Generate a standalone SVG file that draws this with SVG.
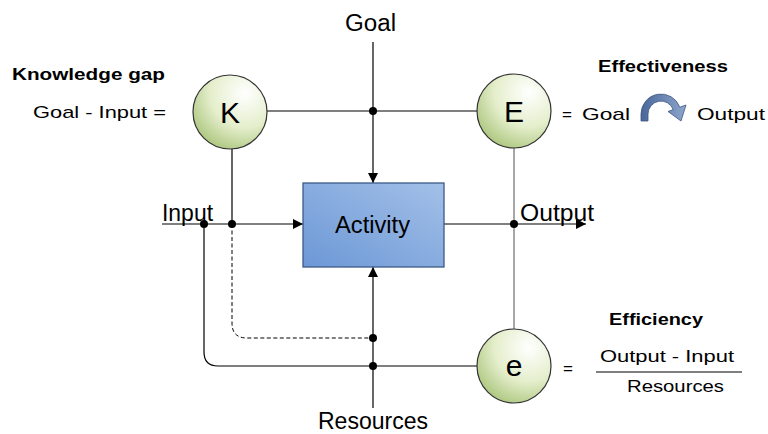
<svg xmlns="http://www.w3.org/2000/svg" width="768" height="434" viewBox="0 0 768 434">
<defs>
<radialGradient id="gc" cx="0.7" cy="0.25" r="0.85">
<stop offset="0" stop-color="#ffffff"/>
<stop offset="0.55" stop-color="#e4eecb"/>
<stop offset="1" stop-color="#a9c47a"/>
</radialGradient>
<linearGradient id="gb" x1="0" y1="1" x2="1" y2="0">
<stop offset="0" stop-color="#6c98d6"/>
<stop offset="1" stop-color="#a3c0e8"/>
</linearGradient>
<linearGradient id="ga" x1="0" y1="0" x2="1" y2="0">
<stop offset="0" stop-color="#4a679b"/>
<stop offset="1" stop-color="#8ea6cc"/>
</linearGradient>
<marker id="ah" viewBox="0 0 10 10" refX="10" refY="5" markerWidth="10" markerHeight="10" markerUnits="userSpaceOnUse" orient="auto">
<path d="M0,0 L10,5 L0,10 Z" fill="#000"/>
</marker>
</defs>
<style>
.ln{fill:none;stroke:#000;stroke-width:1.2}
.gl{fill:none;stroke:#777;stroke-width:1.3}
.ds{fill:none;stroke:#000;stroke-width:1;stroke-dasharray:4,2.5}
.dot{fill:#000}
.lab{font-family:"Liberation Sans",Arial,sans-serif;font-size:23px;fill:#000}
.cl{font-family:"Liberation Sans",Arial,sans-serif;font-size:17px;fill:#000}
.b{font-weight:bold}
.circ{fill:url(#gc);stroke:#333;stroke-width:1.2}
.ct{font-family:"Liberation Sans",Arial,sans-serif;font-size:30px;fill:#000;text-anchor:middle}
</style>
<g id="connectors">
<line class="ln" x1="373" y1="42" x2="373" y2="183" marker-end="url(#ah)"/>
<line class="ln" x1="267" y1="111" x2="477" y2="111"/>
<line class="ln" x1="162" y1="224" x2="303" y2="224" marker-end="url(#ah)"/>
<line class="ln" x1="444" y1="224" x2="586" y2="224" marker-end="url(#ah)"/>
<line class="ln" x1="232" y1="149" x2="232" y2="224"/>
<line class="gl" x1="514" y1="148" x2="514" y2="329"/>
<path class="ds" d="M232,224 L232,323 Q232,338 247,338 L373,338"/>
<path class="ln" d="M204,224 L204,352 Q204,366 218,366 L477,366"/>
<line class="ln" x1="373" y1="408" x2="373" y2="267" marker-end="url(#ah)"/>
<circle class="dot" cx="373" cy="111" r="4"/>
<circle class="dot" cx="204" cy="224" r="4"/>
<circle class="dot" cx="232" cy="224" r="4"/>
<circle class="dot" cx="514" cy="224" r="4"/>
<circle class="dot" cx="373" cy="338" r="4"/>
<circle class="dot" cx="373" cy="366" r="4"/>
</g>
<g id="goal"><text class="lab" x="370.5" y="31" text-anchor="middle" textLength="51" lengthAdjust="spacingAndGlyphs">Goal</text></g>
<g id="input"><text class="lab" x="162" y="221" textLength="51" lengthAdjust="spacingAndGlyphs">Input</text></g>
<g id="output"><text class="lab" x="520" y="221" textLength="74" lengthAdjust="spacingAndGlyphs">Output</text></g>
<g id="resources"><text class="lab" x="318" y="429" textLength="110" lengthAdjust="spacingAndGlyphs">Resources</text></g>
<g id="activity">
<rect x="303" y="183" width="141" height="84" fill="url(#gb)" stroke="#3c5a86" stroke-width="1.3"/>
<text class="lab" x="335" y="233" textLength="75" lengthAdjust="spacingAndGlyphs">Activity</text>
</g>
<g id="K">
<circle class="circ" cx="230" cy="112" r="37"/>
<text class="ct" x="230" y="123">K</text>
</g>
<g id="E">
<circle class="circ" cx="514" cy="111" r="37"/>
<text class="ct" x="514" y="122">E</text>
</g>
<g id="e">
<circle class="circ" cx="514" cy="366" r="37"/>
<text class="ct" x="514" y="376">e</text>
</g>
<g id="knowledge-gap">
<text class="cl b" x="12" y="80" textLength="153" lengthAdjust="spacingAndGlyphs">Knowledge gap</text>
<text class="cl" x="33" y="118" textLength="133" lengthAdjust="spacingAndGlyphs">Goal - Input  =</text>
</g>
<g id="effectiveness">
<text class="cl b" x="598" y="72" textLength="130" lengthAdjust="spacingAndGlyphs">Effectiveness</text>
<text class="cl" x="562" y="120">=</text>
<text class="cl" x="582" y="120" textLength="48" lengthAdjust="spacingAndGlyphs">Goal</text>
<path d="M641,121 L641,114 A20,20 0 0 1 679.8,107.2 L686,105 L681,121 L668,111.5 L673.2,109.6 A13,13 0 0 0 648,114 L648,121 Z" fill="url(#ga)" stroke="#3d5580" stroke-width="0.8"/>
<text class="cl" x="697" y="120" textLength="68" lengthAdjust="spacingAndGlyphs">Output</text>
</g>
<g id="efficiency">
<text class="cl b" x="609" y="325" textLength="94" lengthAdjust="spacingAndGlyphs">Efficiency</text>
<text class="cl" x="563" y="374">=</text>
<text class="cl" x="600" y="362" textLength="134" lengthAdjust="spacingAndGlyphs">Output - Input</text>
<line x1="596" y1="372" x2="742" y2="372" stroke="#000" stroke-width="1"/>
<text class="cl" x="627" y="392" textLength="97" lengthAdjust="spacingAndGlyphs">Resources</text>
</g>
</svg>
